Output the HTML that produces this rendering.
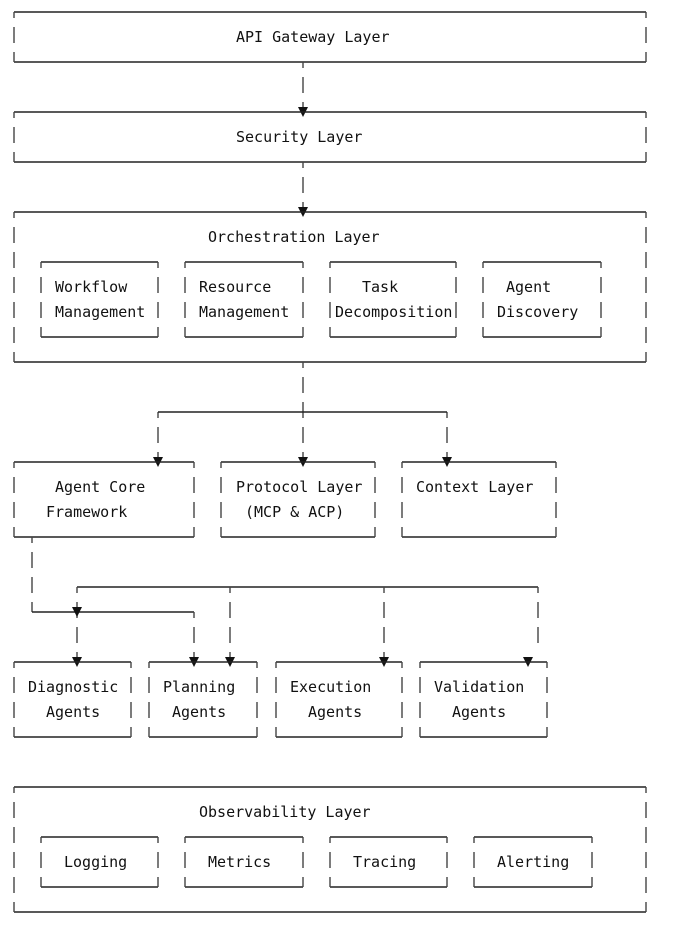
<!DOCTYPE html>
<html><head><meta charset="utf-8"><style>
html,body{margin:0;padding:0;background:#fff;}
svg{display:block;}
text{font-family:"DejaVu Sans Mono","Liberation Mono",monospace;font-size:15px;fill:#111;}
.h{stroke:#222;stroke-width:1.4;fill:none;}
.v{stroke:#444;stroke-width:1.4;fill:none;stroke-dasharray:16 9;stroke-dashoffset:10;}
.a{fill:#111;}
</style></head><body>
<svg width="683" height="929" viewBox="0 0 683 929" xmlns="http://www.w3.org/2000/svg">
<g>
<path class="h" d="M14 12H646M14 62H646"/>
<path class="v" d="M14 12V62M646 12V62"/>
<text x="236" y="42">API Gateway Layer</text>
<path class="v" d="M303 62V112"/>
<polygon class="a" points="298,107 308,107 303,117"/>
<path class="h" d="M14 112H646M14 162H646"/>
<path class="v" d="M14 112V162M646 112V162"/>
<text x="236" y="142">Security Layer</text>
<path class="v" d="M303 162V212"/>
<polygon class="a" points="298,207 308,207 303,217"/>
<path class="h" d="M14 212H646M14 362H646"/>
<path class="v" d="M14 212V362M646 212V362"/>
<text x="208" y="242">Orchestration Layer</text>
<path class="h" d="M41 262H158M41 337H158M185 262H303M185 337H303M330 262H456M330 337H456M483 262H601M483 337H601"/>
<path class="v" d="M41 262V337M158 262V337M185 262V337M303 262V337M330 262V337M456 262V337M483 262V337M601 262V337"/>
<text x="55" y="292">Workflow</text><text x="55" y="317">Management</text>
<text x="199" y="292">Resource</text><text x="199" y="317">Management</text>
<text x="362" y="292">Task</text><text x="335" y="317">Decomposition</text>
<text x="506" y="292">Agent</text><text x="497" y="317">Discovery</text>
<path class="v" d="M303 362V462M158 412V462M447 412V462"/>
<path class="h" d="M158 412H447"/>
<polygon class="a" points="153,457 163,457 158,467"/>
<polygon class="a" points="298,457 308,457 303,467"/>
<polygon class="a" points="442,457 452,457 447,467"/>
<path class="h" d="M14 462H194M14 537H194M221 462H375M221 537H375M402 462H556M402 537H556"/>
<path class="v" d="M14 462V537M194 462V537M221 462V537M375 462V537M402 462V537M556 462V537"/>
<text x="55" y="492">Agent Core</text><text x="46" y="517">Framework</text>
<text x="236" y="492">Protocol Layer</text><text x="245" y="517">(MCP &amp; ACP)</text>
<text x="416" y="492">Context Layer</text>
<path class="v" d="M32 537V612"/>
<path class="h" d="M32 612H194"/>
<path class="v" d="M194 612V662"/>
<path class="h" d="M77 587H538"/>
<path class="v" d="M77 587V662M230 587V662M384 587V662M538 587V650"/>
<polygon class="a" points="72,607 82,607 77,617"/>
<polygon class="a" points="72,657 82,657 77,667"/>
<polygon class="a" points="189,657 199,657 194,667"/>
<polygon class="a" points="225,657 235,657 230,667"/>
<polygon class="a" points="379,657 389,657 384,667"/>
<polygon class="a" points="523,657 533,657 528,667"/>
<path class="h" d="M14 662H131M14 737H131M149 662H257M149 737H257M276 662H402M276 737H402M420 662H547M420 737H547"/>
<path class="v" d="M14 662V737M131 662V737M149 662V737M257 662V737M276 662V737M402 662V737M420 662V737M547 662V737"/>
<text x="28" y="692">Diagnostic</text><text x="46" y="717">Agents</text>
<text x="163" y="692">Planning</text><text x="172" y="717">Agents</text>
<text x="290" y="692">Execution</text><text x="308" y="717">Agents</text>
<text x="434" y="692">Validation</text><text x="452" y="717">Agents</text>
<path class="h" d="M14 787H646M14 912H646"/>
<path class="v" d="M14 787V912M646 787V912"/>
<text x="199" y="817">Observability Layer</text>
<path class="h" d="M41 837H158M41 887H158M185 837H303M185 887H303M330 837H447M330 887H447M474 837H592M474 887H592"/>
<path class="v" d="M41 837V887M158 837V887M185 837V887M303 837V887M330 837V887M447 837V887M474 837V887M592 837V887"/>
<text x="64" y="867">Logging</text>
<text x="208" y="867">Metrics</text>
<text x="353" y="867">Tracing</text>
<text x="497" y="867">Alerting</text>
</g>
</svg>
</body></html>
